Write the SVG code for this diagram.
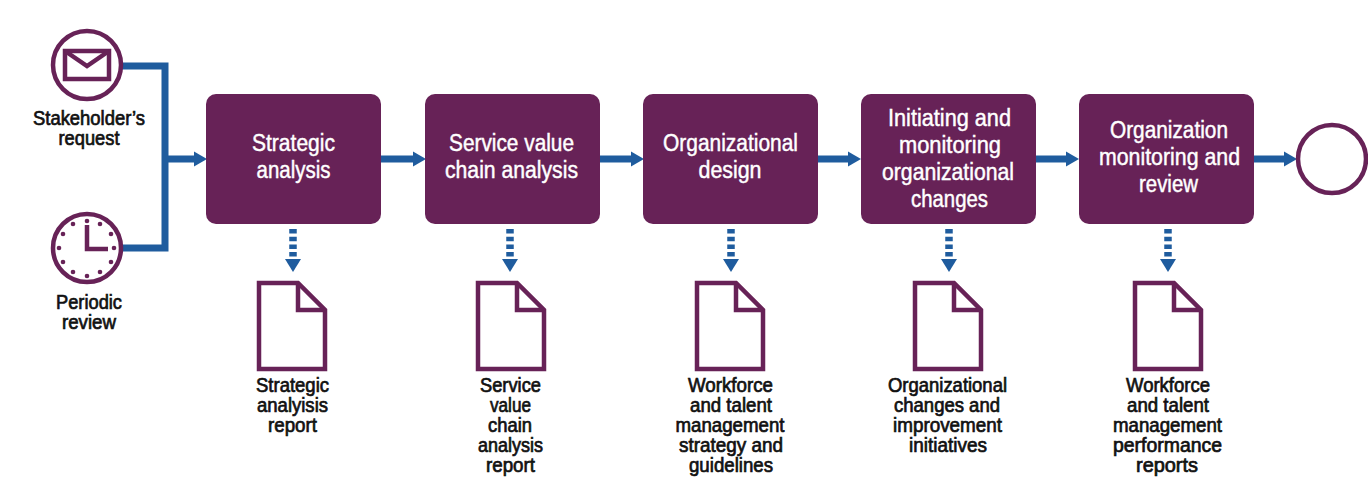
<svg xmlns="http://www.w3.org/2000/svg" width="1368" height="478" viewBox="0 0 1368 478">
<style>
text{font-family:"Liberation Sans",Arial,sans-serif;text-anchor:middle}
.b{fill:#672257}
.bt{fill:#fff;font-size:23.5px;stroke:#fff;stroke-width:.45}
.lb{fill:#111;font-size:20px;stroke:#111;stroke-width:.7}
.o{fill:#fff;stroke:#672257;stroke-width:4.500}
.i{fill:none;stroke:#672257;stroke-width:4.500}
.f{fill:none;stroke:#1f5c9e;stroke-width:7}
.d{fill:none;stroke:#1f5c9e;stroke-width:7.5;stroke-dasharray:4.5 3.2}
.h{fill:#1f5c9e}
.m{fill:#672257}
</style>
<defs>
<g id="doc"><path class="o" d="M-33 0H6L33 27V86H-33Z"/><path class="i" d="M6 0V27H33"/></g>
<path id="ah" class="h" d="M0 -7.500L13 0L0 7.500Z"/>
<path id="dh" class="h" d="M-8 0H8L0 13Z"/>
</defs>
<g id="connectors">
<path class="f" d="M122 66H165V248H122M165 159H195"/><use href="#ah" x="194" y="159"/>
<path class="f" d="M380 159H414"/><use href="#ah" x="413" y="159"/>
<path class="f" d="M600 159H632"/><use href="#ah" x="631" y="159"/>
<path class="f" d="M818 159H850"/><use href="#ah" x="848" y="159"/>
<path class="f" d="M1036 159H1068"/><use href="#ah" x="1066" y="159"/>
<path class="f" d="M1254 159H1286"/><use href="#ah" x="1284" y="159"/>
<path class="d" d="M293 229V258"/><use href="#dh" x="293" y="259"/>
<path class="d" d="M510 229V258"/><use href="#dh" x="510" y="259"/>
<path class="d" d="M731 229V258"/><use href="#dh" x="731" y="259"/>
<path class="d" d="M949 229V258"/><use href="#dh" x="949" y="259"/>
<path class="d" d="M1168 229V258"/><use href="#dh" x="1168" y="259"/>
</g>
<g id="start-request">
<circle class="o" cx="87" cy="65" r="34"/>
<rect class="i" x="65" y="51" width="44" height="28"/><path class="i" d="M65 51L87 66L109 51"/>
<text class="lb" x="89" y="125" textLength="112" lengthAdjust="spacingAndGlyphs">Stakeholder’s</text>
<text class="lb" x="89" y="145" textLength="61" lengthAdjust="spacingAndGlyphs">request</text>
</g>
<g id="start-periodic">
<circle class="o" cx="87" cy="248" r="34"/>
<path class="i" d="M87 225V249H108"/>
<g class="m"><circle cx="87" cy="221" r="2.300"/><circle cx="100" cy="224" r="2.300"/><circle cx="111" cy="234" r="2.300"/><circle cx="114" cy="248" r="2.300"/><circle cx="111" cy="262" r="2.300"/><circle cx="100" cy="272" r="2.300"/><circle cx="87" cy="276" r="2.300"/><circle cx="73" cy="272" r="2.300"/><circle cx="63" cy="262" r="2.300"/><circle cx="59" cy="248" r="2.300"/><circle cx="63" cy="234" r="2.300"/><circle cx="73" cy="224" r="2.300"/></g>
<text class="lb" x="89" y="309" textLength="66" lengthAdjust="spacingAndGlyphs">Periodic</text>
<text class="lb" x="89" y="329" textLength="54" lengthAdjust="spacingAndGlyphs">review</text>
</g>
<g id="task-1">
<rect class="b" x="206" y="94" width="175" height="130" rx="10"/>
<text class="bt" x="293.500" y="151" textLength="83" lengthAdjust="spacingAndGlyphs">Strategic</text>
<text class="bt" x="293.500" y="178" textLength="74" lengthAdjust="spacingAndGlyphs">analysis</text>
</g>
<g id="task-2">
<rect class="b" x="425" y="94" width="175" height="130" rx="10"/>
<text class="bt" x="511.500" y="151" textLength="125" lengthAdjust="spacingAndGlyphs">Service value</text>
<text class="bt" x="511.500" y="178" textLength="133" lengthAdjust="spacingAndGlyphs">chain analysis</text>
</g>
<g id="task-3">
<rect class="b" x="643" y="94" width="175" height="130" rx="10"/>
<text class="bt" x="730.500" y="151" textLength="135" lengthAdjust="spacingAndGlyphs">Organizational</text>
<text class="bt" x="730" y="178" textLength="63" lengthAdjust="spacingAndGlyphs">design</text>
</g>
<g id="task-4">
<rect class="b" x="861" y="94" width="175" height="130" rx="10"/>
<text class="bt" x="949.500" y="126" textLength="123" lengthAdjust="spacingAndGlyphs">Initiating and</text>
<text class="bt" x="950" y="153" textLength="102" lengthAdjust="spacingAndGlyphs">monitoring</text>
<text class="bt" x="948" y="180" textLength="132" lengthAdjust="spacingAndGlyphs">organizational</text>
<text class="bt" x="949.500" y="207" textLength="77" lengthAdjust="spacingAndGlyphs">changes</text>
</g>
<g id="task-5">
<rect class="b" x="1079" y="94" width="175" height="130" rx="10"/>
<text class="bt" x="1169" y="138" textLength="118" lengthAdjust="spacingAndGlyphs">Organization</text>
<text class="bt" x="1169.500" y="165" textLength="141" lengthAdjust="spacingAndGlyphs">monitoring and</text>
<text class="bt" x="1168.500" y="192" textLength="59" lengthAdjust="spacingAndGlyphs">review</text>
</g>
<g id="end"><circle class="o" cx="1332" cy="159" r="34"/></g>
<g id="doc-1"><use href="#doc" x="292" y="283"/>
<text class="lb" x="292.500" y="392" textLength="73" lengthAdjust="spacingAndGlyphs">Strategic</text>
<text class="lb" x="292.500" y="412" textLength="71" lengthAdjust="spacingAndGlyphs">analyisis</text>
<text class="lb" x="292.500" y="432" textLength="49" lengthAdjust="spacingAndGlyphs">report</text>
</g>
<g id="doc-2"><use href="#doc" x="511" y="283"/>
<text class="lb" x="510.500" y="392" textLength="61" lengthAdjust="spacingAndGlyphs">Service</text>
<text class="lb" x="510.500" y="412" textLength="41" lengthAdjust="spacingAndGlyphs">value</text>
<text class="lb" x="510" y="432" textLength="44" lengthAdjust="spacingAndGlyphs">chain</text>
<text class="lb" x="510.500" y="452" textLength="65" lengthAdjust="spacingAndGlyphs">analysis</text>
<text class="lb" x="510.500" y="472" textLength="49" lengthAdjust="spacingAndGlyphs">report</text>
</g>
<g id="doc-3"><use href="#doc" x="730" y="283"/>
<text class="lb" x="730.500" y="392" textLength="85" lengthAdjust="spacingAndGlyphs">Workforce</text>
<text class="lb" x="731" y="412" textLength="82" lengthAdjust="spacingAndGlyphs">and talent</text>
<text class="lb" x="730" y="432" textLength="109" lengthAdjust="spacingAndGlyphs">management</text>
<text class="lb" x="731" y="452" textLength="104" lengthAdjust="spacingAndGlyphs">strategy and</text>
<text class="lb" x="731" y="472" textLength="84" lengthAdjust="spacingAndGlyphs">guidelines</text>
</g>
<g id="doc-4"><use href="#doc" x="948" y="283"/>
<text class="lb" x="947.500" y="392" textLength="119" lengthAdjust="spacingAndGlyphs">Organizational</text>
<text class="lb" x="947" y="412" textLength="106" lengthAdjust="spacingAndGlyphs">changes and</text>
<text class="lb" x="947.500" y="432" textLength="109" lengthAdjust="spacingAndGlyphs">improvement</text>
<text class="lb" x="948" y="452" textLength="78" lengthAdjust="spacingAndGlyphs">initiatives</text>
</g>
<g id="doc-5"><use href="#doc" x="1168" y="283"/>
<text class="lb" x="1168" y="392" textLength="84" lengthAdjust="spacingAndGlyphs">Workforce</text>
<text class="lb" x="1168" y="412" textLength="82" lengthAdjust="spacingAndGlyphs">and talent</text>
<text class="lb" x="1167.500" y="432" textLength="109" lengthAdjust="spacingAndGlyphs">management</text>
<text class="lb" x="1167.500" y="452" textLength="109" lengthAdjust="spacingAndGlyphs">performance</text>
<text class="lb" x="1167" y="472" textLength="62" lengthAdjust="spacingAndGlyphs">reports</text>
</g>
</svg>
